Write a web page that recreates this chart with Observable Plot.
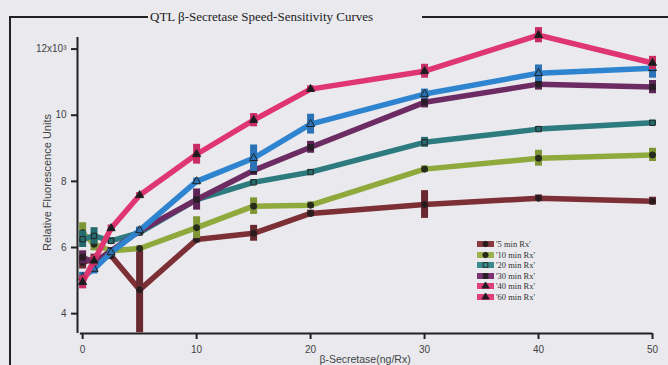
<!DOCTYPE html>
<html><head><meta charset="utf-8">
<script src="https://cdn.jsdelivr.net/npm/d3@7"></script>
<script src="https://cdn.jsdelivr.net/npm/@observablehq/plot@0.6"></script>
<style>
html,body{margin:0;padding:0;background:#e9e9ee;}
#wrap{position:relative;width:668px;height:365px;overflow:hidden;background:#e9e9ee;}
#frameL{position:absolute;left:9px;top:16px;width:0;height:360px;border-left:2px solid #222;}
#frameT1{position:absolute;left:9px;top:16px;width:139px;border-top:2px solid #222;}
#frameT2{position:absolute;left:422px;top:16px;width:246px;border-top:2px solid #222;}
#title{position:absolute;left:150px;top:9px;font:13px "Liberation Serif",serif;color:#222;line-height:16px;white-space:nowrap;}
#chart{position:absolute;left:0;top:0;}
#legend{position:absolute;left:477px;top:239px;font:8.5px "Liberation Serif",serif;color:#333;}
#legend .row{height:10.5px;display:flex;align-items:center;white-space:nowrap;}
#legend svg{margin-right:2px;}
</style></head>
<body>
<div id="wrap">
  <div id="frameL"></div><div id="frameT1"></div><div id="frameT2"></div>
  <div id="title"></div>
  <div id="chart"></div>
  <div id="legend"></div>
</div>
<script>
const titleText = "QTL β-Secretase Speed-Sensitivity Curves";
const xLabel = "β-Secretase(ng/Rx)";
const yLabel = "Relative Fluorescence Units";
const doses = [0, 1, 2.5, 5, 10, 15, 20, 30, 40, 50];
const xTicks = [0, 10, 20, 30, 40, 50];
const yTicks = [4, 6, 8, 10, 12];
const yTickLabels = ["4", "6", "8", "10", "12x10³"];
const seriesNames = ["'5 min Rx'", "'10 min Rx'", "'20 min Rx'", "'30 min Rx'", "'40 min Rx'", "'60 min Rx'"];

const rx5  = [5.55, 5.65, 5.75, 4.72, 6.24, 6.43, 7.03, 7.30, 7.49, 7.40];
const rx10 = [6.45, 6.10, 5.90, 5.97, 6.60, 7.25, 7.28, 8.37, 8.70, 8.80];
const rx20 = [6.25, 6.35, 6.20, 6.45, 7.45, 7.97, 8.28, 9.18, 9.58, 9.77];
const rx30 = [5.70, 5.55, 5.90, 6.50, 7.45, 8.33, 9.03, 10.39, 10.94, 10.85];
const rx40 = [5.10, 5.35, 5.85, 6.52, 8.00, 8.70, 9.73, 10.64, 11.27, 11.42];
const rx60 = [4.95, 5.60, 6.58, 7.58, 8.82, 9.85, 10.79, 11.33, 12.42, 11.58];

const err5  = [0.20, 0.15, 0.10, 1.30, 0.10, 0.24, 0.10, 0.42, 0.10, 0.12];
const err10 = [0.30, 0.20, 0.10, 0.08, 0.33, 0.25, 0.10, 0.10, 0.24, 0.20];
const err20 = [0.25, 0.25, 0.10, 0.08, 0.08, 0.08, 0.08, 0.15, 0.08, 0.08];
const err30 = [0.20, 0.15, 0.10, 0.10, 0.32, 0.15, 0.18, 0.17, 0.18, 0.20];
const err40 = [0.15, 0.15, 0.10, 0.10, 0.10, 0.40, 0.30, 0.15, 0.25, 0.30];
const err60 = [0.20, 0.15, 0.10, 0.08, 0.30, 0.20, 0.10, 0.21, 0.23, 0.20];

const lineColors   = ["#7d2f36", "#8fa93d", "#2d7b7e", "#6c2c63", "#2f84cf", "#df3570"];
const errColors    = ["#6a2830", "#7e9634", "#266b6e", "#5c2555", "#2a73b6", "#c92c62"];
const legendColors = ["#8a3a40", "#9bb24e", "#3a8a8e", "#7a3572", "#e0407a", "#e0407a"];
const symbols      = ["circle", "circle", "square", "square", "triangle", "triangle"];
const markFills    = ["#2b1a1c", "#2a2c1a", "none", "#2b1a28", "none", "#1c1a1c"];
const legendFills  = ["#2b1a1c", "#2a2c1a", "none", "#2b1a28", "#2a1a1e", "#2a1a1e"];

const values = [rx5, rx10, rx20, rx30, rx40, rx60];
const errs = [err5, err10, err20, err30, err40, err60];

document.getElementById("title").textContent = titleText;

const marks = [];
values.forEach((vals, s) => {
  const rows = doses.map((d, i) => ({dose: d, v: vals[i], e: errs[s][i]}));
  marks.push(Plot.line(rows, {x: "dose", y: "v", stroke: lineColors[s], strokeWidth: 5.5, strokeLinejoin: "round"}));
  marks.push(Plot.ruleX(rows, {x: "dose", y1: d => d.v - d.e, y2: d => d.v + d.e, stroke: errColors[s], strokeWidth: 7}));
  marks.push(Plot.dot(rows, {x: "dose", y: "v", symbol: () => symbols[s], r: 3, fill: markFills[s], stroke: "#222", strokeWidth: 1}));
});

const chart = Plot.plot({
  width: 668, height: 365,
  marginLeft: 77, marginRight: 16, marginTop: 37, marginBottom: 32,
  style: {background: "transparent", fontFamily: "Liberation Sans, Arial, sans-serif"},
  x: {domain: [-0.45, 50]},
  y: {domain: [3.4, 12.35]},
  symbol: {type: "identity"},
  marks: [
    Plot.axisX({ticks: xTicks, tickSize: 6, tickPadding: 6, fontSize: 10, label: null, color: "#444", stroke: "#222", strokeWidth: 2}),
    Plot.axisY({ticks: yTicks, tickFormat: d => yTickLabels[yTicks.indexOf(d)], tickSize: 6, tickPadding: 5, fontSize: 10, label: null, color: "#444", stroke: "#222", strokeWidth: 2}),
    Plot.ruleX([-0.45], {stroke: "#222", strokeWidth: 2}),
    Plot.ruleY([3.4], {x1: -0.2, x2: 50, stroke: "#222", strokeWidth: 2}),
    Plot.text([yLabel], {frameAnchor: "left", textAnchor: "middle", rotate: -90, dx: -30, dy: -3, fontSize: 11, fill: "#444"}),
    Plot.text([xLabel], {frameAnchor: "bottom", textAnchor: "middle", dy: 29, fontSize: 10.5, fill: "#444"}),
    ...marks
  ]
});
document.getElementById("chart").appendChild(chart);

const legend = document.getElementById("legend");
seriesNames.forEach((name, s) => {
  const row = document.createElement("div");
  row.className = "row";
  const svg = d3.create("svg").attr("width", 17).attr("height", 8);
  svg.append("rect").attr("x", 0).attr("y", 1).attr("width", 17).attr("height", 6).attr("fill", legendColors[s]);
  const sym = {circle: d3.symbolCircle, square: d3.symbolSquare, triangle: d3.symbolTriangle}[symbols[s]];
  svg.append("path").attr("d", d3.symbol(sym, 22)()).attr("transform", "translate(8.5,4)")
    .attr("fill", legendFills[s]).attr("stroke", "#222").attr("stroke-width", 0.9);
  row.appendChild(svg.node());
  const t = document.createElement("span");
  t.textContent = name;
  row.appendChild(t);
  legend.appendChild(row);
});
</script>
</body></html>
